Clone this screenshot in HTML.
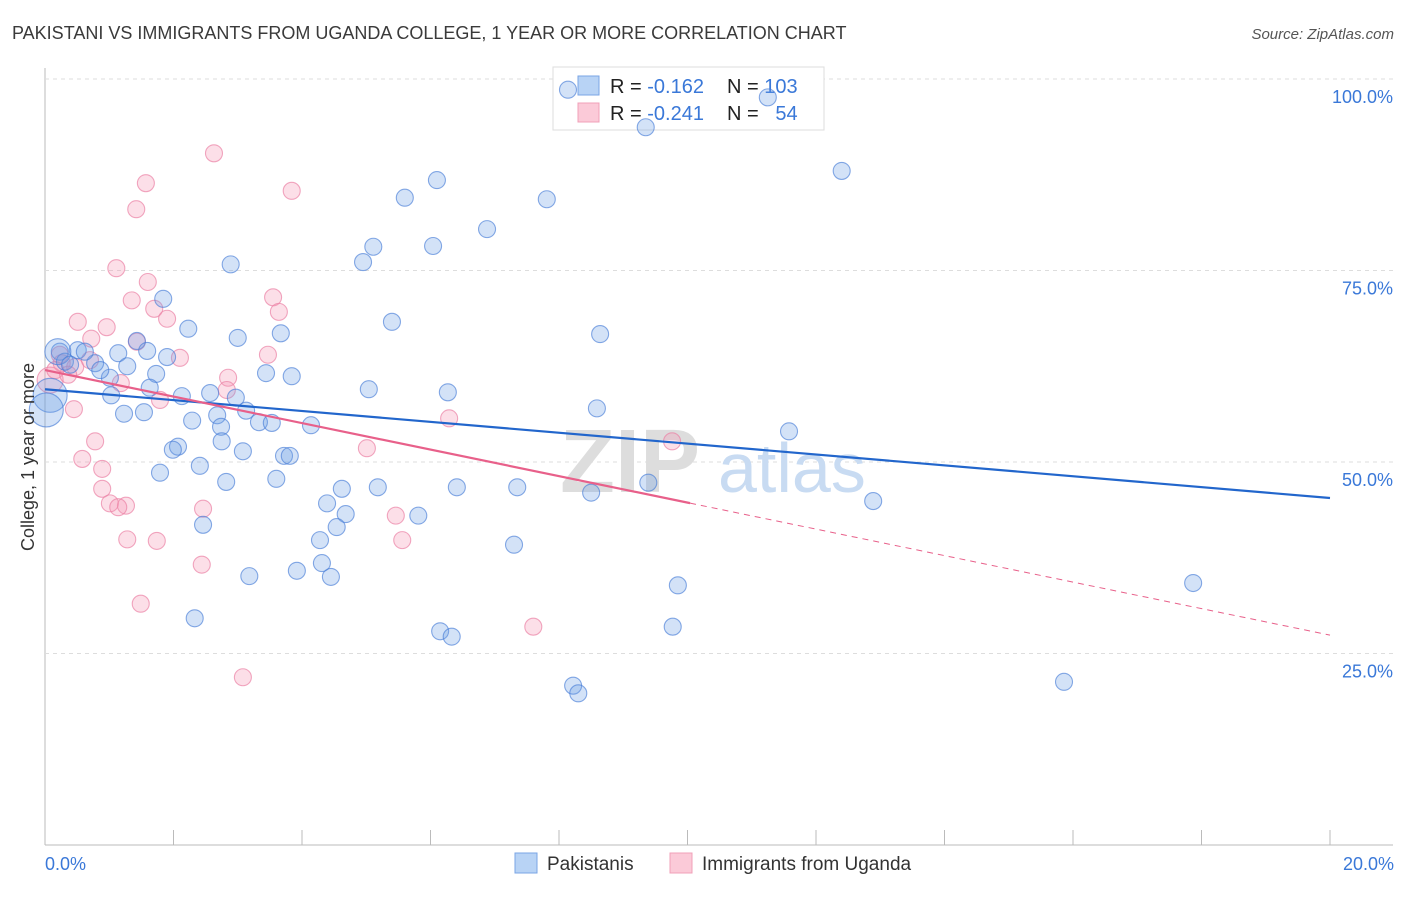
<!DOCTYPE html>
<html><head><meta charset="utf-8"><style>
body{margin:0;background:#fff;font-family:"Liberation Sans",sans-serif}
svg text{font-family:"Liberation Sans",sans-serif}
</style></head><body>
<svg id="chart" width="1406" height="892" xmlns="http://www.w3.org/2000/svg">
<text x="12" y="39" font-size="18" fill="#3a3a3a">PAKISTANI VS IMMIGRANTS FROM UGANDA COLLEGE, 1 YEAR OR MORE CORRELATION CHART</text>
<text x="1394" y="39" font-size="15" fill="#555" text-anchor="end" font-style="italic">Source: ZipAtlas.com</text>
<g id="grid"></g>
<text x="560" y="492" font-size="90" fill="#ddd" font-family="Liberation Serif" font-weight="bold">ZIP</text>
<text x="718" y="492" font-size="70" fill="#c8dbf2">atlas</text>
<g>
<rect x="553" y="67" width="271" height="63" fill="#fff" stroke="#ddd"/>
<rect x="578" y="76" width="21" height="19" fill="#b8d3f5" stroke="#7aa5e5"/>
<rect x="578" y="103" width="21" height="19" fill="#fbcad8" stroke="#f0a0b8"/>
<text x="610" y="93" font-size="20" fill="#222">R = <tspan fill="#3a78d8">-0.162</tspan></text>
<text x="727" y="93" font-size="20" fill="#222">N = <tspan fill="#3a78d8">103</tspan></text>
<text x="610" y="120" font-size="20" fill="#222">R = <tspan fill="#3a78d8">-0.241</tspan></text>
<text x="727" y="120" font-size="20" fill="#222">N = <tspan fill="#3a78d8" xml:space="preserve">  54</tspan></text>
</g>
<g id="pts"></g>
<g id="trends"></g>
<text transform="translate(34,457) rotate(-90)" font-size="18" fill="#333" text-anchor="middle">College, 1 year or more</text>
<text x="45" y="870" font-size="18" fill="#3a78d8">0.0%</text>
<text x="1394" y="870" font-size="18" fill="#3a78d8" text-anchor="end">20.0%</text>
<g>
<rect x="515" y="853" width="22" height="20" fill="#b8d3f5" stroke="#7aa5e5"/>
<text x="547" y="870" font-size="19" fill="#333">Pakistanis</text>
<rect x="670" y="853" width="22" height="20" fill="#fbcad8" stroke="#f0a0b8"/>
<text x="702" y="870" font-size="19" fill="#333">Immigrants from Uganda</text>
</g>
</svg>
<script>
const yTicks=[25,50,75,100];
const blueX=[8.14,9.35,12.40,5.60,6.10,7.81,6.88,5.11,6.04,4.95,2.89,1.84,5.40,2.23,3.67,8.64,3.00,1.43,1.59,1.90,1.14,0.51,0.23,0.31,0.78,1.28,1.01,1.73,3.44,3.84,5.04,6.27,1.63,2.13,2.57,2.97,1.03,1.23,1.54,3.13,8.59,2.29,2.68,3.33,3.53,4.14,2.74,11.58,2.07,1.99,2.75,3.08,3.72,3.81,1.79,2.41,3.60,2.82,4.62,5.18,6.41,7.35,8.50,9.39,4.39,4.68,5.81,12.89,4.54,2.46,4.28,7.30,4.31,3.92,3.18,4.45,9.85,17.87,2.33,6.15,6.33,9.77,8.22,8.30,15.86,0.20,0.08,0.02,0.39,0.62,0.86,11.25];
const blueY=[98.6,93.7,88.0,84.5,86.8,84.3,80.4,78.1,78.2,76.1,75.8,71.3,68.3,67.4,66.8,66.7,66.2,65.8,64.5,63.7,64.2,64.6,64.4,63.1,62.9,62.5,61.0,61.5,61.6,61.2,59.5,59.1,59.7,58.6,59.0,58.4,58.7,56.3,56.5,56.7,57.0,55.4,56.1,55.2,55.1,54.8,54.6,54.0,52.0,51.6,52.7,51.4,50.8,50.8,48.6,49.5,47.8,47.4,46.5,46.7,46.7,46.7,46.0,47.3,44.6,43.2,43.0,44.9,41.5,41.8,39.8,39.2,36.8,35.8,35.1,35.0,33.9,34.2,29.6,27.9,27.2,28.5,20.8,19.8,21.3,64.4,58.7,56.8,62.7,64.4,62.0,97.6];
const blueBig=[85,86,87];
const pinkX=[2.63,1.57,3.84,1.42,1.11,1.60,1.35,3.55,0.51,1.70,3.64,1.90,0.96,0.72,1.43,0.23,2.10,3.47,0.26,0.47,0.70,2.85,2.83,1.18,1.79,0.45,6.29,5.01,0.78,0.58,0.89,0.89,1.01,1.26,1.14,2.46,5.46,5.56,1.28,1.74,2.44,1.49,7.60,3.08,9.76,0.08,0.16,0.36];
const pinkY=[90.3,86.4,85.4,83.0,75.3,73.5,71.1,71.5,68.3,70.0,69.6,68.7,67.6,66.1,65.7,64.0,63.6,64.0,62.9,62.4,63.3,61.0,59.4,60.3,58.1,56.9,55.7,51.8,52.7,50.4,49.1,46.5,44.6,44.3,44.1,43.9,43.0,39.8,39.9,39.7,36.6,31.5,28.5,21.9,52.7,60.7,62.0,61.4];
const pinkBig=[45];
const blueTrend=[59.5,45.3];
const pinkTrend=[62.0,27.4];
const pinkSolidEnd=10.04;
const NS="http://www.w3.org/2000/svg";
const sx=v=>45+v*64.25, sy=v=>845-v*7.66;
function mk(t,a,p){const e=document.createElementNS(NS,t);for(const k in a)e.setAttribute(k,a[k]);p.appendChild(e);return e;}
const grid=document.getElementById('grid');
const ax=mk('line',{x1:45,y1:68,x2:45,y2:845,stroke:'#bbb'},grid);


const xx=mk('line',{x1:45,y1:845,x2:1393,y2:845,stroke:'#bbb'},grid);


for(let i=0;i<=10;i++){const t=mk('line',{x1:sx(i*2),y1:830,x2:sx(i*2),y2:845,stroke:'#bbb'},grid);

}
yTicks.forEach(v=>{const g=mk('line',{x1:45,y1:sy(v),x2:1393,y2:sy(v),stroke:'#ddd','stroke-dasharray':'4,4'},grid);


const t=mk('text',{x:1393,y:sy(v)+24,'font-size':18,fill:'#3a78d8','text-anchor':'end'},grid);t.textContent=v.toFixed(1)+'%';

});
const pts=document.getElementById('pts');
pinkX.forEach((x,i)=>{const c=mk('circle',{cx:sx(x),cy:sy(pinkY[i]),r:pinkBig.includes(i)?13:8.5,fill:'rgba(245,150,180,0.3)',stroke:'rgba(235,130,165,0.7)','stroke-width':1.1},pts);

});
blueX.forEach((x,i)=>{const c=mk('circle',{cx:sx(x),cy:sy(blueY[i]),r:blueBig.includes(i)?(i==85?13:17):8.5,fill:'rgba(110,160,230,0.3)',stroke:'rgba(70,125,215,0.65)','stroke-width':1.1},pts);

});
const tr=document.getElementById('trends');
const bl=mk('line',{x1:sx(0),y1:sy(blueTrend[0]),x2:sx(20),y2:sy(blueTrend[1]),stroke:'#2266cc','stroke-width':2.2},tr);


const pm=pinkTrend[0]+(pinkTrend[1]-pinkTrend[0])*pinkSolidEnd/20;
const pl=mk('line',{x1:sx(0),y1:sy(pinkTrend[0]),x2:sx(pinkSolidEnd),y2:sy(pm),stroke:'#e8608a','stroke-width':2.2},tr);


const pd=mk('line',{x1:sx(pinkSolidEnd),y1:sy(pm),x2:sx(20),y2:sy(pinkTrend[1]),stroke:'#e8608a','stroke-width':1,'stroke-dasharray':'6,5'},tr);


</script>
</body></html>
